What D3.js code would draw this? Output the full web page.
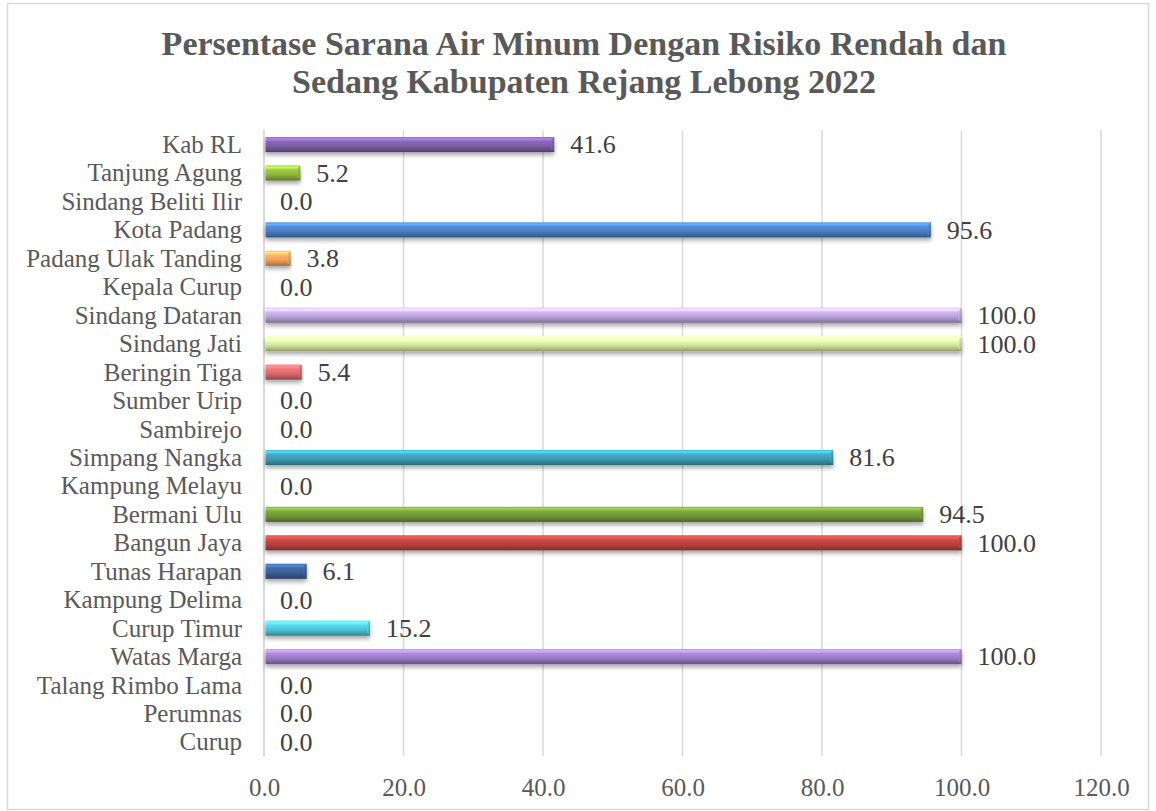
<!DOCTYPE html>
<html>
<head>
<meta charset="utf-8">
<script src="https://cdn.jsdelivr.net/npm/d3@7"></script>
<style>
  html, body { margin: 0; padding: 0; background: #ffffff; }
  svg { display: block; }
</style>
</head>
<body>
<svg id="chart" width="1156" height="811"></svg>
<script>
// Districts, top to bottom
const categories = [
  "Kab RL", "Tanjung Agung", "Sindang Beliti Ilir", "Kota Padang",
  "Padang Ulak Tanding", "Kepala Curup", "Sindang Dataran", "Sindang Jati",
  "Beringin Tiga", "Sumber Urip", "Sambirejo", "Simpang Nangka",
  "Kampung Melayu", "Bermani Ulu", "Bangun Jaya", "Tunas Harapan",
  "Kampung Delima", "Curup Timur", "Watas Marga", "Talang Rimbo Lama",
  "Perumnas", "Curup"
];

// Percentage of drinking-water facilities with low / medium risk
const values = [
  41.6, 5.2, 0.0, 95.6,
  3.8, 0.0, 100.0, 100.0,
  5.4, 0.0, 0.0, 81.6,
  0.0, 94.5, 100.0, 6.1,
  0.0, 15.2, 100.0, 0.0,
  0.0, 0.0
];

// Fill colour of each bar
const barColors = [
  "#7b5da4", "#8db33e", "#4bacc6", "#4a7cc2",
  "#f2a05a", "#9bbb59", "#b7a2d8", "#d3e49c",
  "#d8676a", "#4f81bd", "#c0504d", "#3c9ab3",
  "#f79646", "#729538", "#b5423f", "#3a5f97",
  "#8064a2", "#4cc3d5", "#997bc5", "#4bacc6",
  "#9bbb59", "#4f81bd"
];

const xTicks = [0, 20, 40, 60, 80, 100, 120];

const titleLines = [
  "Persentase Sarana Air Minum Dengan Risiko Rendah dan",
  "Sedang Kabupaten Rejang Lebong 2022"
];

const textColor = "#595959";
const gridColor = "#d9d9d9";
const fontFamily = "'Liberation Serif', 'DejaVu Serif', serif";

const svg = d3.select("#chart");

// chart frame
svg.append("rect")
  .attr("x", 7.5).attr("y", 3.5)
  .attr("width", 1141).attr("height", 806)
  .attr("fill", "#ffffff")
  .attr("stroke", gridColor)
  .attr("stroke-width", 1.5);

// title
svg.append("text")
  .attr("text-anchor", "middle")
  .attr("font-family", fontFamily)
  .attr("font-weight", "bold")
  .attr("font-size", 34)
  .attr("fill", textColor)
  .selectAll("tspan")
  .data(titleLines)
  .join("tspan")
  .attr("x", 584)
  .attr("y", (d, i) => 55 + i * 38)
  .text(d => d);

const x = d3.scaleLinear().domain([0, 120]).range([264, 1101]);
const y = d3.scaleBand()
  .domain(categories)
  .range([130.3, 756.2])
  .paddingInner(0.47)
  .paddingOuter(0.235);

const plotTop = 130.3, plotBottom = 756.2;

// vertical gridlines
svg.append("g")
  .selectAll("line")
  .data(xTicks)
  .join("line")
  .attr("x1", d => x(d)).attr("x2", d => x(d))
  .attr("y1", plotTop).attr("y2", plotBottom)
  .attr("stroke", gridColor)
  .attr("stroke-width", 1.5);

// x tick labels
const xAxis = d3.axisBottom(x)
  .tickValues(xTicks)
  .tickFormat(d3.format(".1f"))
  .tickSize(0)
  .tickPadding(0);
const gx = svg.append("g")
  .attr("transform", `translate(0, ${plotBottom + 22})`)
  .call(xAxis);
gx.select(".domain").remove();
gx.selectAll("text")
  .attr("font-family", fontFamily)
  .attr("font-size", 25)
  .attr("fill", textColor)
  .attr("dy", "0.71em");

// category labels
const yAxis = d3.axisLeft(y).tickSize(0).tickPadding(0);
const gy = svg.append("g")
  .attr("transform", "translate(242, 0)")
  .call(yAxis);
gy.select(".domain").remove();
gy.selectAll("text")
  .attr("font-family", fontFamily)
  .attr("font-size", 25)
  .attr("fill", textColor)
  .attr("dy", "0.34em");

// gradients giving the bars a bevelled look
const defs = svg.append("defs");
barColors.forEach((c, i) => {
  const base = d3.color(c);
  const g = defs.append("linearGradient")
    .attr("id", "bar-grad-" + i)
    .attr("x1", 0).attr("y1", 0).attr("x2", 0).attr("y2", 1);
  const stops = [
    [0, base.brighter(0.4)],
    [0.12, base.brighter(1.0)],
    [0.3, base.brighter(0.35)],
    [0.6, base],
    [0.82, base.darker(0.5)],
    [1, base.darker(1.1)]
  ];
  stops.forEach(([o, col]) => {
    g.append("stop").attr("offset", o).attr("stop-color", col.formatHex());
  });
  const e = defs.append("linearGradient")
    .attr("id", "end-grad-" + i)
    .attr("x1", 0).attr("y1", 0).attr("x2", 1).attr("y2", 1);
  e.append("stop").attr("offset", 0).attr("stop-color", base.brighter(0.6).formatHex());
  e.append("stop").attr("offset", 1).attr("stop-color", base.darker(0.9).formatHex());
});

const shadow = defs.append("filter")
  .attr("id", "bar-shadow")
  .attr("x", "-5%").attr("y", "-50%")
  .attr("width", "110%").attr("height", "250%");
shadow.append("feDropShadow")
  .attr("dx", 0).attr("dy", 3)
  .attr("stdDeviation", 2)
  .attr("flood-color", "#000000")
  .attr("flood-opacity", 0.35);

// axis line at zero
svg.append("line")
  .attr("x1", x(0)).attr("x2", x(0))
  .attr("y1", plotTop).attr("y2", plotBottom)
  .attr("stroke", gridColor)
  .attr("stroke-width", 2);

const rows = categories.map((c, i) => ({ cat: c, v: values[i], i }));

const bars = svg.append("g");
const barRows = bars.selectAll("g")
  .data(rows.filter(d => d.v > 0))
  .join("g")
  .attr("filter", "url(#bar-shadow)");

barRows.append("rect")
  .attr("x", x(0) + 1.5)
  .attr("y", d => y(d.cat))
  .attr("width", d => Math.max(0, x(d.v) - x(0) - 1.5))
  .attr("height", y.bandwidth())
  .attr("fill", d => `url(#bar-grad-${d.i})`);

// small bevel at the bar end
barRows.append("path")
  .attr("d", d => {
    const xe = x(d.v), y0 = y(d.cat), h = y.bandwidth(), b = 3;
    return `M${xe - b},${y0 + b} L${xe},${y0} L${xe},${y0 + h} L${xe - b},${y0 + h - b} Z`;
  })
  .attr("fill", d => `url(#end-grad-${d.i})`)
  .attr("opacity", 0.9);

// value labels
svg.append("g")
  .selectAll("text")
  .data(rows)
  .join("text")
  .attr("x", d => x(d.v) + 16)
  .attr("y", d => y(d.cat) + y.bandwidth() / 2)
  .attr("dy", "0.34em")
  .attr("font-family", fontFamily)
  .attr("font-size", 26)
  .attr("fill", "#404040")
  .text(d => d3.format(".1f")(d.v));
</script>
</body>
</html>
